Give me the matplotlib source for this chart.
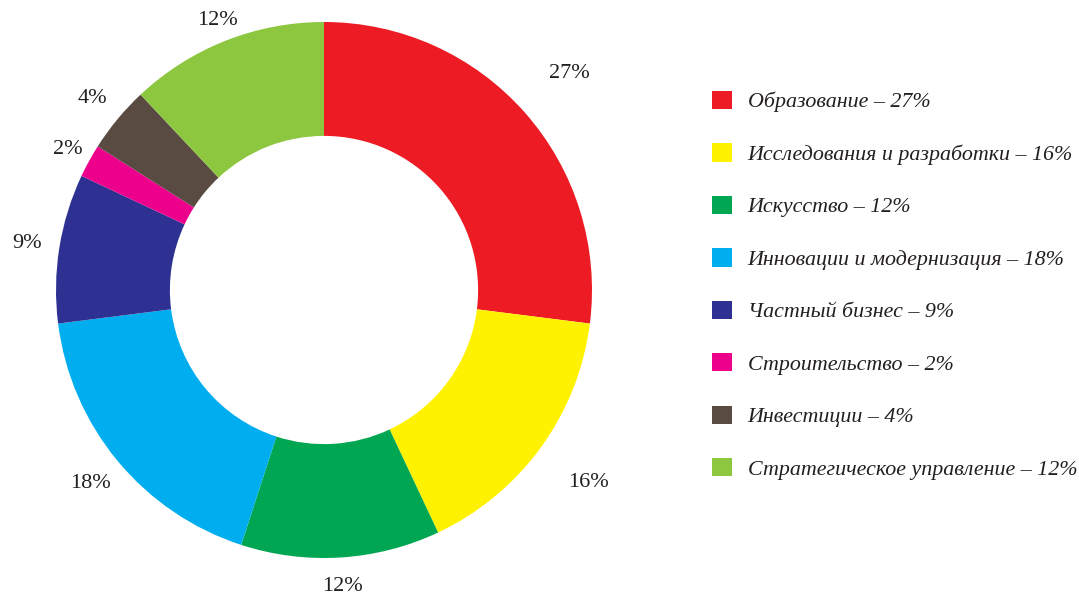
import numpy as np
import matplotlib
matplotlib.use("Agg")
import matplotlib.pyplot as plt

# доли направлений, %
categories = ['Образование', 'Исследования и разработки', 'Искусство',
              'Инновации и модернизация', 'Частный бизнес', 'Строительство',
              'Инвестиции', 'Стратегическое управление']
shares = [27, 16, 12, 18, 9, 2, 4, 12]
colors = ['#ED1C24', '#FFF200', '#00A651', '#00AEEF',
          '#2E3192', '#EC008C', '#594A42', '#8DC63F']

# radial offset of each % label (in outer radii) - layout only
label_r = [1.22, 1.22, 1.11, 1.13, 1.12, 1.09, 1.12, 1.08]

W, H = 1079, 593
fig = plt.figure(figsize=(W / 100, H / 100), dpi=100)
ax = fig.add_axes([0, 0, 1, 1])

cx, cy, R = 324, H - 290, 268
wedges, _ = ax.pie(shares, colors=colors, startangle=90, counterclock=False,
                   center=(cx, cy), radius=R, frame=True,
                   wedgeprops=dict(width=R * 0.425, linewidth=0))
ax.set_xlim(0, W)
ax.set_ylim(0, H)
ax.set_aspect('equal')
ax.axis('off')

# подписи процентов
for w, v, k in zip(wedges, shares, label_r):
    ang = np.deg2rad((w.theta1 + w.theta2) / 2)
    x = cx + R * k * np.cos(ang)
    y = cy + R * k * np.sin(ang)
    ax.text(x, y, f'{v}%', ha='center', va='center',
            fontsize=16, family='Liberation Serif', color='#231F20')

labels = [f'{c} – {v}%' for c, v in zip(categories, shares)]
leg = ax.legend(wedges, labels, loc='upper left',
                bbox_to_anchor=(692 / W, 1 - 71 / H),
                frameon=False, handlelength=0.91, handleheight=0.91,
                handletextpad=0.73, labelspacing=1.40,
                prop=dict(family='Liberation Serif', style='italic', size=15.8))
for t in leg.get_texts():
    t.set_color('#231F20')

fig.savefig('out.png', dpi=100)
